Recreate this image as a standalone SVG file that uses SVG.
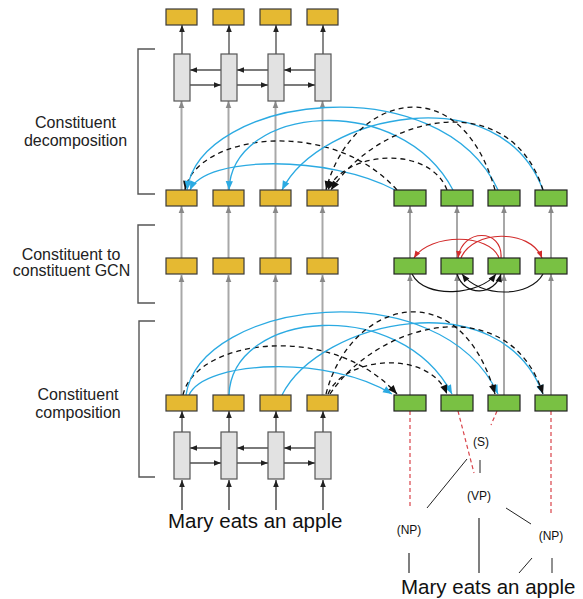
<svg xmlns="http://www.w3.org/2000/svg" width="583" height="599" viewBox="0 0 583 599">
<style>
.y{fill:#E5B932;stroke:#3a3a3a;stroke-width:1.2}
.g{fill:#79C143;stroke:#222;stroke-width:1.2}
.l{fill:#E2E2E2;stroke:#555;stroke-width:1.2}
.gv{stroke:#A8A8A8;stroke-width:2;fill:none;marker-end:url(#mg)}
.up{stroke:#555;stroke-width:1.4;fill:none;marker-end:url(#mk)}
.h{stroke:#222;stroke-width:1.2;fill:none;marker-end:url(#mk)}
.bl{stroke:#2BAAE2;stroke-width:1.3;fill:none;marker-end:url(#mb)}
.da{stroke:#111;stroke-width:1.3;stroke-dasharray:5,4;fill:none;marker-end:url(#md)}
.rd{stroke:#D22B2B;stroke-width:1.2;fill:none;marker-end:url(#mr)}
.bk{stroke:#111;stroke-width:1.2;fill:none;marker-end:url(#md2)}
.br{stroke:#555;stroke-width:1.4;fill:none}
.tr{stroke:#D9434A;stroke-width:1.2;stroke-dasharray:4,3;fill:none}
.tb{stroke:#222;stroke-width:1;fill:none}
.lab{font-family:"Liberation Sans",Arial,Helvetica,sans-serif;font-size:16px;fill:#222;text-anchor:middle}
.w{font-family:"Liberation Sans",Arial,Helvetica,sans-serif;font-size:20.5px;fill:#111}
.t{font-family:"Liberation Sans",Arial,Helvetica,sans-serif;font-size:12px;fill:#111;text-anchor:middle}
</style>
<defs>
<marker id="mg" viewBox="0 0 10 10" refX="10" refY="5" markerWidth="7" markerHeight="7" markerUnits="userSpaceOnUse" orient="auto"><path d="M0,1 L10,5 L0,9 z" fill="#888"/></marker>
<marker id="mk" viewBox="0 0 10 10" refX="10" refY="5" markerWidth="7" markerHeight="7" markerUnits="userSpaceOnUse" orient="auto"><path d="M0,1 L10,5 L0,9 z" fill="#222"/></marker>
<marker id="mb" viewBox="0 0 10 10" refX="10" refY="5" markerWidth="10" markerHeight="9" markerUnits="userSpaceOnUse" orient="auto"><path d="M0,1 L10,5 L0,9 z" fill="#2BAAE2"/></marker>
<marker id="md" viewBox="0 0 10 10" refX="10" refY="5" markerWidth="10" markerHeight="9" markerUnits="userSpaceOnUse" orient="auto"><path d="M0,1 L10,5 L0,9 z" fill="#111"/></marker>
<marker id="md2" viewBox="0 0 10 10" refX="10" refY="5" markerWidth="9" markerHeight="8" markerUnits="userSpaceOnUse" orient="auto"><path d="M0,1 L10,5 L0,9 z" fill="#111"/></marker>
<marker id="mr" viewBox="0 0 10 10" refX="10" refY="5" markerWidth="8" markerHeight="7" markerUnits="userSpaceOnUse" orient="auto"><path d="M0,1 L10,5 L0,9 z" fill="#D22B2B"/></marker>
</defs>

<g id="connectors">
<!-- gray vertical flows, yellow columns -->
<path class="gv" d="M181.5,395 V275"/><path class="gv" d="M228.5,395 V275"/><path class="gv" d="M275.5,395 V275"/><path class="gv" d="M322.5,395 V275"/>
<path class="gv" d="M181.5,258 V206"/><path class="gv" d="M228.5,258 V206"/><path class="gv" d="M275.5,258 V206"/><path class="gv" d="M322.5,258 V206"/>
<path class="gv" d="M181.5,190 V101"/><path class="gv" d="M228.5,190 V101"/><path class="gv" d="M275.5,190 V101"/><path class="gv" d="M322.5,190 V101"/>
<!-- gray vertical flows, green columns -->
<path class="gv" d="M410,395 V274"/><path class="gv" d="M457,395 V274"/><path class="gv" d="M504,395 V274"/><path class="gv" d="M551,395 V274"/>
<path class="gv" d="M410,258 V206"/><path class="gv" d="M457,258 V206"/><path class="gv" d="M504,258 V206"/><path class="gv" d="M551,258 V206"/>
<!-- top LSTM -->
<path class="up" d="M182,54 V25"/><path class="up" d="M229,54 V25"/><path class="up" d="M276,54 V25"/><path class="up" d="M323,54 V25"/>
<path class="h" d="M221,70 H190"/><path class="h" d="M268,70 H237"/><path class="h" d="M315,70 H284"/>
<path class="h" d="M190,85 H221"/><path class="h" d="M237,85 H268"/><path class="h" d="M284,85 H315"/>
<!-- bottom LSTM -->
<path class="up" d="M182,432 V411"/><path class="up" d="M229,432 V411"/><path class="up" d="M276,432 V411"/><path class="up" d="M323,432 V411"/>
<path class="h" d="M221,448 H190"/><path class="h" d="M268,448 H237"/><path class="h" d="M315,448 H284"/>
<path class="h" d="M190,463 H221"/><path class="h" d="M237,463 H268"/><path class="h" d="M284,463 H315"/>
<path class="h" d="M182,510 V480"/><path class="h" d="M229,510 V480"/><path class="h" d="M276,510 V480"/><path class="h" d="M323,510 V480"/>

<!-- composition -->
<path class="bl" d="M189,395 C205,360 330,355 392,394"/>
<path class="da" d="M183,395 C195,340 330,320 397,394"/>
<path class="bl" d="M186,395 C200,300 440,270 498,394"/>
<path class="bl" d="M229,395 C232,310 400,295 452,394"/>
<path class="bl" d="M282,395 C320,320 500,280 543,394"/>
<path class="da" d="M328,394 C345,355 430,350 447,394"/>
<path class="da" d="M326,394 C350,300 460,270 495,394"/>
<path class="da" d="M330,394 C380,320 510,290 543,394"/>

<!-- decomposition -->
<path class="bl" d="M395,190 C330,155 205,155 190,190"/>
<path class="da" d="M397,190 C330,115 195,135 185,190"/>
<path class="bl" d="M498,190 C440,65 200,95 187,190"/>
<path class="bl" d="M453,190 C400,90 232,105 229,190"/>
<path class="bl" d="M543,190 C500,75 320,115 282,190"/>
<path class="da" d="M447,190 C430,145 345,150 328,190"/>
<path class="da" d="M495,190 C460,65 350,95 326,190"/>
<path class="da" d="M543,190 C510,85 380,115 331,190"/>

<!-- GCN -->
<path class="rd" d="M499,258 C490,233 430,233 414,258"/>
<path class="rd" d="M501,258 C503,228 462,228 458,258"/>
<path class="rd" d="M461,258 C472,230 530,228 542,258"/>
<path class="bk" d="M412,274 C425,300 480,295 496,274"/>
<path class="bk" d="M457,274 C465,298 495,295 501,274"/>
<path class="bk" d="M543,274 C530,298 480,298 462,274"/>

<!-- parse tree -->
<path class="tr" d="M410,411 V508"/>
<path class="tr" d="M458,411 L474,473"/>
<path class="tr" d="M497,411 L491,425"/>
<path class="tr" d="M551,411 V513"/>
<path class="tb" d="M467,459 L427,508"/>
<path class="tb" d="M480,460 V473"/>
<path class="tb" d="M506,508 L531,524"/>
<path class="tb" style="stroke:#555;stroke-width:1.5" d="M479,518 V573"/>
<path class="tb" style="stroke:#555;stroke-width:1.5" d="M409,553 V573"/>
<path class="tb" d="M532,558 L519,573"/>
<path class="tb" d="M552,558 V573"/>

<!-- brackets -->
<path class="br" d="M155,49 H138 V194 H155"/>
<path class="br" d="M155,225 H138 V303 H155"/>
<path class="br" d="M155,321 H139 V477 H155"/>
</g>

<g id="lstm-top">
<rect class="l" x="174" y="54" width="16" height="47"/><rect class="l" x="221" y="54" width="16" height="47"/><rect class="l" x="268" y="54" width="16" height="47"/><rect class="l" x="315" y="54" width="16" height="47"/>
</g>
<g id="lstm-bottom">
<rect class="l" x="174" y="432" width="16" height="47"/><rect class="l" x="221" y="432" width="16" height="47"/><rect class="l" x="268" y="432" width="16" height="47"/><rect class="l" x="315" y="432" width="16" height="47"/>
</g>
<g id="out-row">
<rect class="y" x="166" y="9" width="31" height="16"/><rect class="y" x="213" y="9" width="31" height="16"/><rect class="y" x="260" y="9" width="31" height="16"/><rect class="y" x="307" y="9" width="31" height="16"/>
</g>
<g id="word-decomp">
<rect class="y" x="166" y="190" width="31" height="16"/><rect class="y" x="213" y="190" width="31" height="16"/><rect class="y" x="260" y="190" width="31" height="16"/><rect class="y" x="307" y="190" width="31" height="16"/>
</g>
<g id="word-gcn">
<rect class="y" x="166" y="258" width="31" height="16"/><rect class="y" x="213" y="258" width="31" height="16"/><rect class="y" x="260" y="258" width="31" height="16"/><rect class="y" x="307" y="258" width="31" height="16"/>
</g>
<g id="word-comp">
<rect class="y" x="166" y="395" width="31" height="16"/><rect class="y" x="213" y="395" width="31" height="16"/><rect class="y" x="260" y="395" width="31" height="16"/><rect class="y" x="307" y="395" width="31" height="16"/>
</g>
<g id="const-decomp">
<rect class="g" x="394" y="190" width="32" height="16"/><rect class="g" x="441" y="190" width="32" height="16"/><rect class="g" x="488" y="190" width="32" height="16"/><rect class="g" x="535" y="190" width="32" height="16"/>
</g>
<g id="const-gcn">
<rect class="g" x="394" y="258" width="32" height="16"/><rect class="g" x="441" y="258" width="32" height="16"/><rect class="g" x="488" y="258" width="32" height="16"/><rect class="g" x="535" y="258" width="32" height="16"/>
</g>
<g id="const-comp">
<rect class="g" x="394" y="395" width="32" height="16"/><rect class="g" x="441" y="395" width="32" height="16"/><rect class="g" x="488" y="395" width="32" height="16"/><rect class="g" x="535" y="395" width="32" height="16"/>
</g>

<g id="labels">
<text class="lab" x="75.5" y="128">Constituent</text>
<text class="lab" x="75.5" y="146">decomposition</text>
<text class="lab" x="71" y="260">Constituent to</text>
<text class="lab" x="71.5" y="276">constituent GCN</text>
<text class="lab" x="78" y="400">Constituent</text>
<text class="lab" x="78" y="418">composition</text>
</g>
<g id="sentence-left"><text class="w" x="168" y="528">Mary eats an apple</text></g>
<g id="tree">
<text class="t" x="481" y="446">(S)</text>
<text class="t" x="479" y="500">(VP)</text>
<text class="t" x="409" y="534">(NP)</text>
<text class="t" x="551" y="540">(NP)</text>
<text class="w" x="401" y="594">Mary eats an apple</text>
</g>
</svg>
